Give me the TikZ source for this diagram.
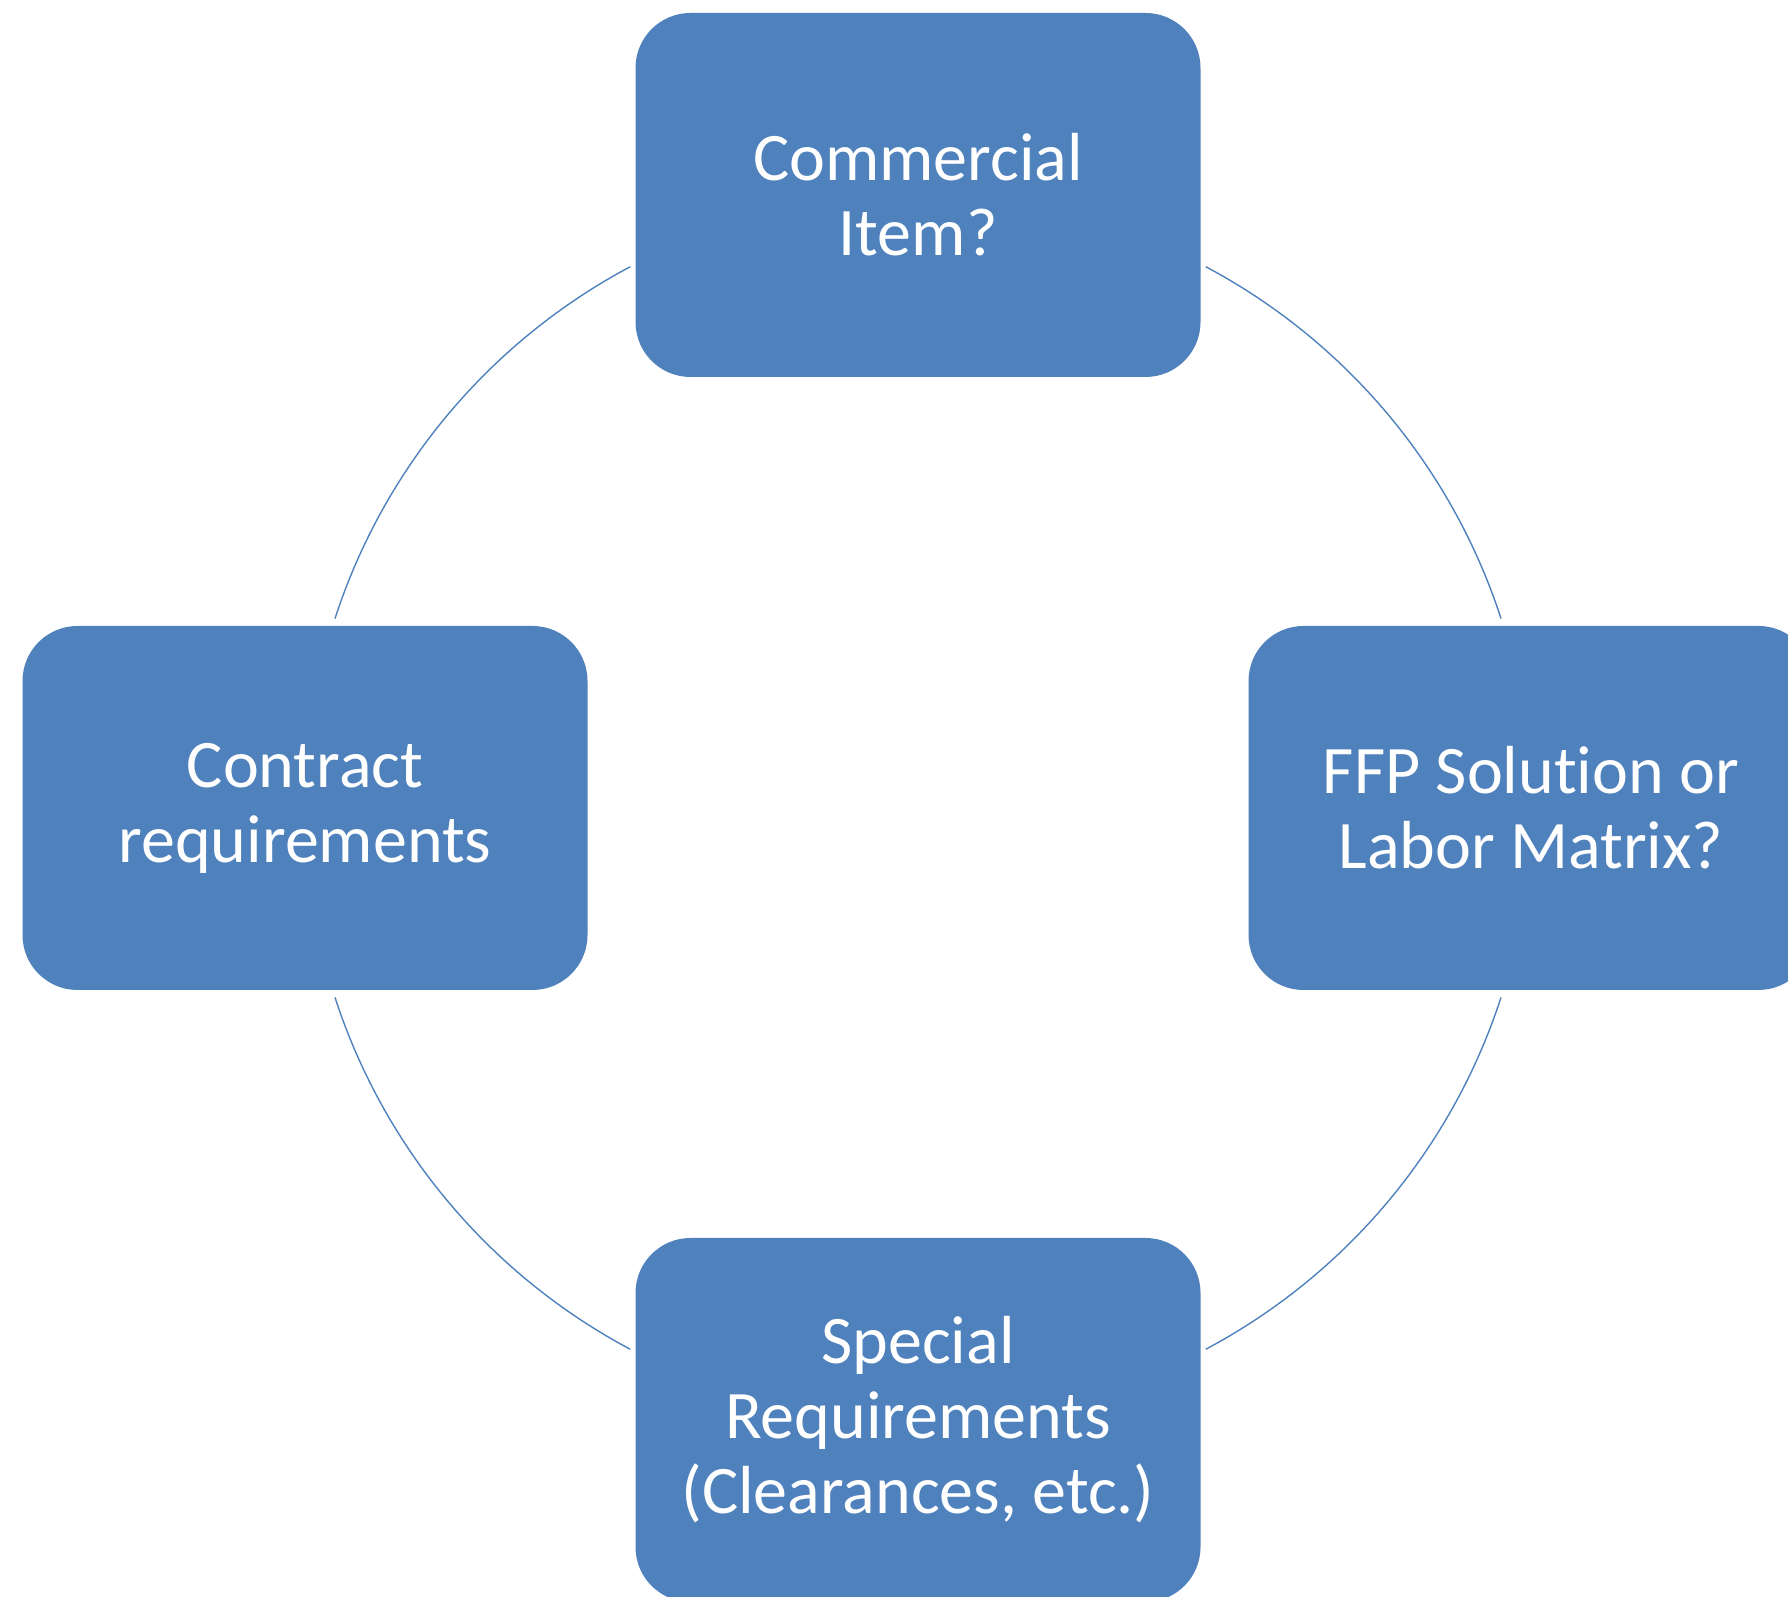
\documentclass[tikz,border=0pt]{standalone}
\usepackage{fontspec}
\setmainfont{Carlito}[Ligatures={NoCommon,NoContextual,NoRare}, Contextuals=NoAlternate]
\usepackage{xcolor}
\usepackage{tikz}
\usetikzlibrary{positioning}
\definecolor{accentblue}{HTML}{4F81BD}
\tikzset{
cycle box/.style = { rectangle, fill = accentblue, text = white, minimum width = 565pt, minimum height = 364pt, rounded corners = 55pt, inner sep = 0pt, align = center, font = \fontsize{68}{75}\selectfont },
cycle arc/.style = { draw = accentblue, line width = 1.4pt },
}

\begin{document}
\begin{tikzpicture}[x=1pt, y=1pt]
      \useasboundingbox (0,0) rectangle (1788,1597);
      \coordinate (hub) at (918,789);
      \begin{scope}[every node/.style={cycle box}]
        \node (item) at (918,1402) {Commercial\\Item?};
        \node (contract) at (305,789) {Contract\\requirements};
        \node (ffp) at (1531,789) {FFP Solution or\\Labor Matrix?};
        \node (special) at (918,177) {Special\\Requirements\\(Clearances, etc.)};
      \end{scope}
      % arcs of the cycle, between the boxes
      \foreach \s/\e in {18/62, 118/162, 198/242, 298/342}
        \draw[cycle arc] ([shift={(\s:613)}]hub) arc[start angle=\s, end angle=\e, radius=613];
    \end{tikzpicture}
\end{document}
